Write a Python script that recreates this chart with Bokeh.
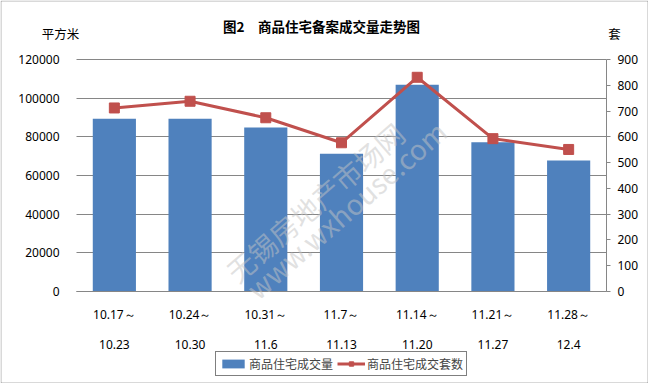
from bokeh.plotting import figure
from bokeh.models import (Range1d, LinearAxis, SingleIntervalTicker, FixedTicker,
                          NumeralTickFormatter, Label, Legend, LegendItem, BoxAnnotation)
from bokeh.embed import file_html
from bokeh.resources import INLINE

cats_start = ["10.17～", "10.24～", "10.31～", "11.7～", "11.14～", "11.21～", "11.28～"]
cats_end = ["10.23", "10.30", "11.6", "11.13", "11.20", "11.27", "12.4"]
area = [89400, 89400, 84800, 71300, 107000, 77200, 67700]
units = [712, 738, 674, 577, 831, 593, 551]

W, H = 648, 383
FONT = "Noto Sans"
CJK = "Noto Sans CJK SC"
GRID = "#868686"

xs = list(range(len(cats_start)))
n = len(xs)
# plot area inside the canvas: x 76..606, y 59..291 (px)
L, R, T, B = 76, 606, 59, 291
px_x = (R - L) / n
px_y = (B - T) / 120000
px_u = (B - T) / 900
x_range = Range1d(-0.5 - L / px_x, n - 0.5 + (W - R) / px_x)
y_range = Range1d(-(H - B) / px_y, 120000 + T / px_y)
u_range = Range1d(-(H - B) / px_u, 900 + T / px_u)

p = figure(x_range=x_range, y_range=y_range, width=W, height=H,
           output_backend="svg", toolbar_location=None,
           x_axis_location=None, y_axis_location=None,
           min_border_left=0, min_border_right=0, min_border_top=0, min_border_bottom=0)
p.extra_y_ranges = {"units": u_range}
p.outline_line_color = None
p.grid.visible = False

# left axis (its inward ticks act as the horizontal gridlines)
ya = LinearAxis(ticker=SingleIntervalTicker(interval=20000), fixed_location=-0.5,
                bounds=(0, 120000), formatter=NumeralTickFormatter(format="0"))
ya.level = "underlay"
ya.axis_line_color = None
ya.major_tick_line_color = GRID
ya.major_tick_in = R - L
ya.major_tick_out = 0
ya.minor_tick_line_color = None
ya.major_label_standoff = 13
ya.major_label_text_font = FONT
ya.major_label_text_font_size = "12px"
ya.major_label_text_color = "black"
p.add_layout(ya, "left")

# right axis
ra = LinearAxis(y_range_name="units", ticker=SingleIntervalTicker(interval=100),
                fixed_location=n - 0.5, bounds=(0, 900))
ra.axis_line_color = GRID
ra.major_tick_line_color = GRID
ra.major_tick_out = 4
ra.major_tick_in = 0
ra.minor_tick_line_color = None
ra.major_label_standoff = 7
ra.major_label_text_font = FONT
ra.major_label_text_font_size = "12px"
ra.major_label_text_color = "black"
p.add_layout(ra, "right")

# bottom axes: two lines of category labels
def cat_axis(labels, standoff, line_color):
    ax = LinearAxis(ticker=FixedTicker(ticks=xs), fixed_location=0, bounds=(-0.5, n - 0.5))
    ax.axis_line_color = line_color
    ax.major_tick_line_color = None
    ax.minor_tick_line_color = None
    ax.major_tick_out = 0
    ax.major_tick_in = 0
    ax.major_label_standoff = standoff
    ax.major_label_text_font = FONT
    ax.major_label_text_font_size = "12px"
    ax.major_label_text_color = "black"
    ax.major_label_overrides = {x: s for x, s in zip(xs, labels)}
    return ax

p.add_layout(cat_axis(cats_start, 14, GRID), "below")
p.add_layout(cat_axis(cats_end, 48, None), "below")

bars = p.vbar(x=xs, top=area, width=0.57, fill_color="#4F81BD", line_color=None)
ln = p.line(x=xs, y=units, y_range_name="units", line_color="#C0504D", line_width=3)
mk = p.scatter(x=xs, y=units, y_range_name="units", marker="square", size=10,
               fill_color="#C0504D", line_color="#C0504D")

# watermark
for txt, x0, y0 in [("无锡房地产市场网", 230, 275), ("www.wxhouse.com", 250, 292)]:
    p.add_layout(Label(x=x0, y=y0, x_units="canvas", y_units="canvas", text=txt,
                       angle=41, angle_units="deg", text_font=CJK, text_font_size="28px",
                       text_color="#c4c4c4", text_alpha=0.5, text_align="left",
                       text_baseline="alphabetic"))

# texts
p.add_layout(Label(x=321, y=25, x_units="canvas", y_units="canvas",
                   text="图2\u3000商品住宅备案成交量走势图", text_font=CJK,
                   text_font_style="bold", text_font_size="13.5px", text_align="center",
                   text_baseline="middle", text_color="black"))
p.add_layout(Label(x=60, y=33, x_units="canvas", y_units="canvas", text="平方米",
                   text_font=CJK, text_font_size="12.5px", text_align="center",
                   text_baseline="middle", text_color="black"))
p.add_layout(Label(x=614, y=33, x_units="canvas", y_units="canvas", text="套",
                   text_font=CJK, text_font_size="12.5px", text_align="center",
                   text_baseline="middle", text_color="black"))

legend = Legend(items=[LegendItem(label="商品住宅成交量", renderers=[bars]),
                       LegendItem(label="商品住宅成交套数", renderers=[ln, mk])],
                location=(215, 7), orientation="horizontal",
                border_line_color="black", border_line_width=1,
                background_fill_color="white", padding=3, spacing=4, margin=0,
                label_text_font=CJK, label_text_font_size="12px",
                glyph_width=28, glyph_height=11, label_standoff=2,
                label_height=13)
p.add_layout(legend, "center")

# outer border
p.add_layout(BoxAnnotation(left=0.5, right=W - 0.5, top=0.5, bottom=H - 0.5,
                           left_units="canvas", right_units="canvas",
                           top_units="canvas", bottom_units="canvas",
                           fill_color=None, line_color="black", line_width=1))

open("out.html", "w").write(file_html(p, INLINE))
